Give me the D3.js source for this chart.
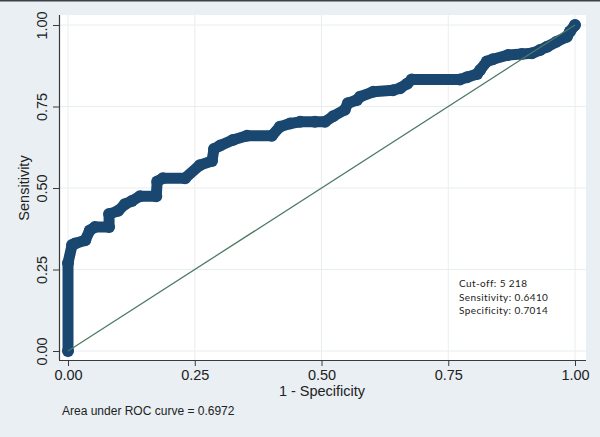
<!DOCTYPE html>
<html>
<head>
<meta charset="utf-8">
<script src="https://cdn.jsdelivr.net/npm/d3@7"></script>
<style>
  body { margin: 0; background: #e9eff2; }
  svg { display: block; font-family: "Liberation Sans", Arial, sans-serif; }
</style>
</head>
<body>
<div id="vis"></div>
<script>
// ROC points: 1 - specificity and sensitivity
var fpr = [0, 0, 0.008, 0.014, 0.034, 0.043, 0.053, 0.081, 0.081, 0.099, 0.112, 0.126, 0.142, 0.174,
  0.176, 0.187, 0.231, 0.26, 0.284, 0.288, 0.30, 0.325, 0.353, 0.402, 0.418, 0.438, 0.458, 0.487,
  0.507, 0.523, 0.546, 0.552, 0.57, 0.576, 0.602, 0.641, 0.655, 0.669, 0.678, 0.773, 0.787, 0.807,
  0.813, 0.826, 0.838, 0.868, 0.895, 0.915, 0.931, 0.945, 0.964, 0.984, 0.99, 1];
var tpr = [0, 0.27, 0.325, 0.33, 0.34, 0.37, 0.38, 0.38, 0.42, 0.43, 0.45, 0.46, 0.475, 0.475,
  0.52, 0.53, 0.53, 0.57, 0.583, 0.62, 0.63, 0.647, 0.66, 0.66, 0.688, 0.698, 0.703, 0.703,
  0.703, 0.72, 0.74, 0.76, 0.77, 0.78, 0.795, 0.80, 0.806, 0.82, 0.833, 0.833, 0.84, 0.85,
  0.862, 0.888, 0.895, 0.908, 0.911, 0.913, 0.923, 0.933, 0.949, 0.964, 0.98, 1];
var ticks = [0, 0.25, 0.5, 0.75, 1];
var notes = ["Cut-off: 5 218", "Sensitivity: 0.6410", "Specificity: 0.7014"];
var aucText = "Area under ROC curve = 0.6972";

var width = 600, height = 437;
var svg = d3.select('#vis').append('svg')
    .attr('width', width)
    .attr('height', height);

svg.append('rect').attr('width', width).attr('height', height).attr('fill', '#e9eff2');
svg.append('rect').attr('width', width).attr('height', 1.5).attr('fill', '#3c4247');

// plot region
svg.append('rect')
    .attr('x', 59).attr('y', 15)
    .attr('width', 527).attr('height', 345)
    .attr('fill', '#ffffff');

var x = d3.scaleLinear().domain([0, 1]).range([68, 575]);
var y = d3.scaleLinear().domain([0, 1]).range([351, 25]);

// grid
svg.append('g').selectAll('line').data(ticks).enter().append('line')
    .attr('x1', 59).attr('x2', 586)
    .attr('y1', function(d) { return y(d); }).attr('y2', function(d) { return y(d); })
    .attr('stroke', '#e8eef0').attr('stroke-width', 1);
svg.append('g').selectAll('line').data(ticks).enter().append('line')
    .attr('y1', 15).attr('y2', 360)
    .attr('x1', function(d) { return x(d); }).attr('x2', function(d) { return x(d); })
    .attr('stroke', '#e8eef0').attr('stroke-width', 1);

// axes
var xAxis = d3.axisBottom(x).tickValues(ticks).tickFormat(d3.format('.2f')).tickSize(6).tickSizeOuter(0);
var yAxis = d3.axisLeft(y).tickValues(ticks).tickFormat(d3.format('.2f')).tickSize(6).tickSizeOuter(0);

var gx = svg.append('g').attr('transform', 'translate(0,360)').call(xAxis);
gx.select('.domain').attr('d', 'M59,0.5H586');
var gy = svg.append('g').attr('transform', 'translate(59,0)').call(yAxis);
gy.select('.domain').attr('d', 'M0.5,15V360');

[gx, gy].forEach(function(g) {
  g.selectAll('.domain').attr('stroke', '#3a3a3a').attr('stroke-width', 1.2);
  g.selectAll('.tick line').attr('stroke', '#3a3a3a');
  g.selectAll('.tick text').attr('fill', '#222').attr('font-size', 14.5)
      .attr('font-family', '"Liberation Sans", Arial, sans-serif');
});
gx.selectAll('.tick text').attr('y', 10);
gy.selectAll('.tick text')
    .attr('text-anchor', 'middle')
    .attr('x', 0).attr('dy', 0)
    .attr('transform', 'translate(-12.5,0) rotate(-90)');

// axis titles
svg.append('text').attr('x', 322).attr('y', 396)
    .attr('text-anchor', 'middle').attr('font-size', 14.5).attr('fill', '#222')
    .text('1 - Specificity');
svg.append('text')
    .attr('transform', 'translate(29,188) rotate(-90)')
    .attr('text-anchor', 'middle').attr('font-size', 14.5).attr('fill', '#222')
    .text('Sensitivity');

svg.append('text').attr('x', 62).attr('y', 415)
    .attr('font-size', 12).attr('fill', '#222')
    .text(aucText);

// ROC curve
var pts = fpr.map(function(d, i) { return [d, tpr[i]]; });
var line = d3.line().x(function(d) { return x(d[0]); }).y(function(d) { return y(d[1]); });

svg.append('path').datum(pts)
    .attr('d', line)
    .attr('fill', 'none')
    .attr('stroke', '#1a476f')
    .attr('stroke-width', 11)
    .attr('stroke-linejoin', 'round')
    .attr('stroke-linecap', 'round');

svg.append('g').selectAll('circle').data(pts).enter().append('circle')
    .attr('cx', function(d) { return x(d[0]); })
    .attr('cy', function(d) { return y(d[1]); })
    .attr('r', 6)
    .attr('fill', '#1a476f');

// reference line
svg.append('path').datum([[0, 0], [1, 1]])
    .attr('d', line)
    .attr('fill', 'none')
    .attr('stroke', '#4e7a64')
    .attr('stroke-width', 1.3);

// note
svg.append('g').selectAll('text').data(notes).enter().append('text')
    .attr('x', 459)
    .attr('y', function(d, i) { return 287 + i * 13.5; })
    .attr('font-family', 'Lato, "Open Sans", sans-serif')
    .attr('font-size', 10)
    .attr('letter-spacing', 0.4)
    .attr('fill', '#222')
    .text(function(d) { return d; });
</script>
</body>
</html>
